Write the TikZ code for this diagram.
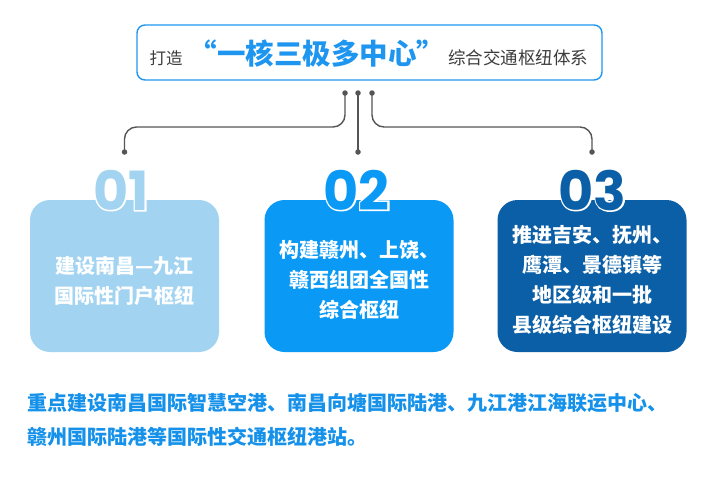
\documentclass[tikz,border=0pt]{standalone}
\usepackage{fontspec}
\setmainfont{Noto Sans CJK SC}
\newfontfamily\numfont{Poppins}
\newfontfamily\rimfont{Poppins}[FakeBold = 6]

\definecolor{titleblue}{HTML}{1E96F0}
\definecolor{paleblue}{HTML}{A2D4F2}
\definecolor{midblue}{HTML}{0A9AF6}
\definecolor{deepblue}{HTML}{0B5FA6}
\definecolor{noteblue}{HTML}{1591EA}
\definecolor{linegray}{HTML}{555555}
\definecolor{textgray}{HTML}{3C3C3C}

\tikzset{
	card/.style = {rounded corners = 20pt, minimum width = 189pt, minimum height = 152pt, inner sep = 0pt},
	cardtext/.style = {white, font = \fontsize{20}{30}\selectfont\bfseries, align = center},
	num/.style = {font = \numfont\bfseries\fontsize{54}{54}\selectfont, inner sep = 0pt, anchor = base},
	rim/.style = {white, font = \rimfont\bfseries\fontsize{54}{54}\selectfont, inner sep = 0pt, anchor = base},
	pin/.style = {circle, fill = linegray, inner sep = 0pt, minimum size = 5.5pt},
	link/.style = {linegray, line width = 1.4pt, rounded corners = 12pt},
	note/.style = {anchor = base west, noteblue, inner sep = 0pt, font = \fontsize{20}{20}\selectfont\bfseries}
}

\begin{document}
\begin{tikzpicture}[x = 1pt, y = -1pt]

	\useasboundingbox (0, 0) rectangle (717, 480);

	% Title box
	
	\node [draw = titleblue, line width = 1.4pt, rounded corners = 8pt, minimum width = 465pt, minimum height = 55pt] (title) at (369.5, 52.5) {};
	\node [anchor = base, textgray, font = \fontsize{16.5}{16.5}\selectfont] (pre) at (166, 64) {打造};
	\node [anchor = base, titleblue, font = \fontsize{28.5}{28.5}\selectfont\bfseries] (core) at (317, 64) {“一核三极多中心”};
	\node [anchor = base, textgray, font = \fontsize{17.5}{17.5}\selectfont] (post) at (518, 64) {综合交通枢纽体系};
	
	% Pins and links
	
	\node [pin] (top1) at (345, 93) {};
	\node [pin] (top2) at (358, 93) {};
	\node [pin] (top3) at (372, 93) {};
	\node [pin] (bot1) at (124.5, 152) {};
	\node [pin] (bot2) at (358, 152) {};
	\node [pin] (bot3) at (592, 152) {};
	\coordinate (bend) at (0, 127);
	
	\draw [link] (top1.center) -- (top1 |- bend) -- (bot1 |- bend) -- (bot1.center);
	\draw [link] (top2.center) -- (bot2.center);
	\draw [link] (top3.center) -- (top3 |- bend) -- (bot3 |- bend) -- (bot3.center);
	
	% Cards
	
	\node [card, fill = paleblue] (card1) at (124.5, 276) {};
	\node [card, fill = midblue] (card2) at (359, 276) {};
	\node [card, fill = deepblue] (card3) at (592, 276) {};
	
	% Numbers with a white rim
	
	\foreach \k/\x/\c in {1/121/paleblue, 2/356.5/midblue, 3/592.5/deepblue} {
		\node [rim] (rim\k) at (\x, 210) {0\k};
		\node [num, \c] (num\k) at (\x, 210) {0\k};
	}
	
	% Card texts
	
	\node [cardtext] (txt1) at (124.5, 281) {建设南昌—九江\\国际性门户枢纽};
	\node [cardtext] (txt2) at (359, 280) {构建赣州、上饶、\\赣西组团全国性\\综合枢纽};
	\node [cardtext] (txt3) at (592, 280) {推进吉安、抚州、\\鹰潭、景德镇等\\地区级和一批\\县级综合枢纽建设};
	
	% Note below
	
	\node [note] (note1) at (27, 410) {重点建设南昌国际智慧空港、南昌向塘国际陆港、九江港江海联运中心、};
	\node [note] (note2) at (27, 444) {赣州国际陆港等国际性交通枢纽港站。};
	
\end{tikzpicture}
\end{document}
